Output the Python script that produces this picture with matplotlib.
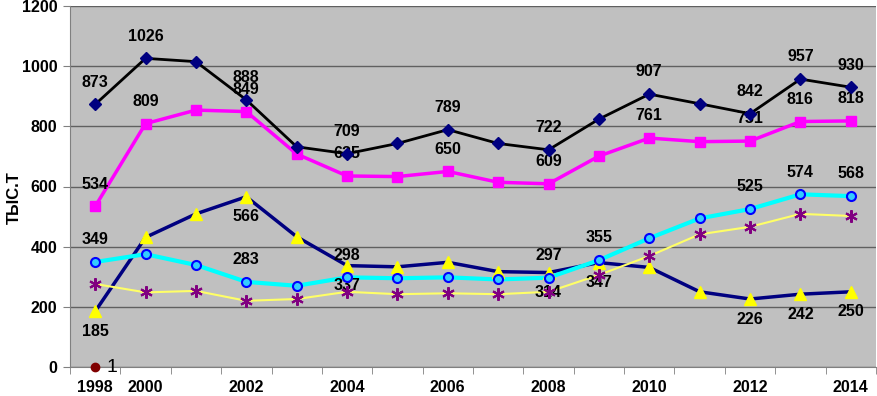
import numpy as np
import matplotlib.pyplot as plt

plt.rcParams['font.family'] = ['Liberation Sans', 'DejaVu Sans']

years = ['1998', '2000', '2001', '2002', '2003', '2004', '2005', '2006',
         '2007', '2008', '2009', '2010', '2011', '2012', '2013', '2014']
tick_text = ['1998', '2000', '', '2002', '', '2004', '', '2006',
             '', '2008', '', '2010', '', '2012', '', '2014']

total = [873, 1026, 1015, 888, 732, 709, 743, 789, 743, 722, 824, 907, 875, 842, 957, 930]
total_lab = [1, 1, 0, 1, 0, 1, 0, 1, 0, 1, 0, 1, 0, 1, 1, 1]

pink = [534, 809, 854, 849, 708, 635, 633, 650, 614, 609, 701, 761, 749, 751, 816, 818]
pink_lab = [1, 1, 0, 1, 0, 1, 0, 1, 0, 1, 0, 1, 0, 1, 1, 1]

navy = [185, 431, 509, 566, 433, 337, 333, 348, 317, 314, 347, 331, 250, 226, 242, 250]
navy_lab = [1, 0, 0, 1, 0, 1, 0, 0, 0, 1, 1, 0, 0, 1, 1, 1]

cyan = [349, 375, 339, 283, 270, 298, 295, 298, 291, 297, 355, 428, 494, 525, 574, 568]
cyan_lab = [1, 0, 0, 1, 0, 1, 0, 0, 0, 1, 1, 0, 0, 1, 1, 1]

star = [276, 248, 253, 220, 226, 250, 242, 245, 242, 250, 306, 369, 441, 466, 509, 502]

x = np.arange(len(years))

fig = plt.figure(figsize=(8.77, 3.96), dpi=100)
ax = fig.add_axes([70/877, 29/396, 806/877, 361/396])
ax.set_facecolor('#C0C0C0')

lab_font = dict(fontsize=11.5, fontweight='bold', color='black', ha='center', va='center', zorder=3)

def series(vals, lw, lc, marker, ms, mfc, mec, mew=1.0, labs=None, up=True):
    ax.plot(x, vals, '-', color=lc, lw=lw, zorder=2)
    ax.plot(x, vals, linestyle='none', marker=marker, ms=ms, mfc=mfc, mec=mec, mew=mew, zorder=4)
    if labs is None:
        return
    for i, v in enumerate(vals):
        if labs[i]:
            dy = 16 if up else -14.5
            ax.annotate(str(v), (x[i], v), xytext=(0, dy), textcoords='offset points', **lab_font)

series(pink, 2.5, '#FF00FF', 's', 7, '#FF00FF', '#FF00FF', labs=pink_lab)
series(total, 2.0, 'black', 'D', 6, '#000080', '#000080', labs=total_lab)
series(navy, 2.5, '#000080', '^', 8, '#FFFF00', '#FFFF00', labs=navy_lab, up=False)
series(cyan, 3.0, '#00FFFF', 'o', 6.5, '#33CCFF', '#0000FF', mew=1.5, labs=cyan_lab)
series(star, 1.5, '#FFFF66', (6, 2, 0), 9, '#800080', '#800080', mew=1.5)

# odd single point at zero
ax.plot([0], [0], linestyle='none', marker='o', ms=6, color='#800000', zorder=5, clip_on=False)
ax.annotate('1', (0, 0), xytext=(8, 0), textcoords='offset points', fontsize=14,
            va='center', ha='left', zorder=5)

ax.set_xlim(-0.5, len(years) - 0.5)
ax.set_ylim(0, 1200)
ax.set_yticks(np.arange(0, 1201, 200))
ax.set_yticklabels([str(v) for v in range(0, 1201, 200)], fontsize=11.5, fontweight='bold')
ax.set_xticks(x)
ax.set_xticklabels(tick_text, fontsize=11.5, fontweight='bold')
ax.set_xticks(np.arange(-0.5, len(years), 1), minor=True)
ax.tick_params(axis='x', which='major', length=0, pad=9)
ax.tick_params(axis='x', which='minor', length=5, color='#808080', direction='out')
ax.tick_params(axis='y', length=5, color='#808080', direction='out', pad=4)
ax.yaxis.grid(True, color='#606060', lw=1)
ax.set_axisbelow(True)
for s in ['top', 'right']:
    ax.spines[s].set_visible(False)
ax.spines['left'].set_color('#808080')
ax.spines['bottom'].set_color('#808080')
ax.set_ylabel('ТЫС.Т', fontsize=12, fontweight='bold')
ax.yaxis.set_label_coords(-0.06, 0.47)

fig.savefig('out.png', dpi=100)
